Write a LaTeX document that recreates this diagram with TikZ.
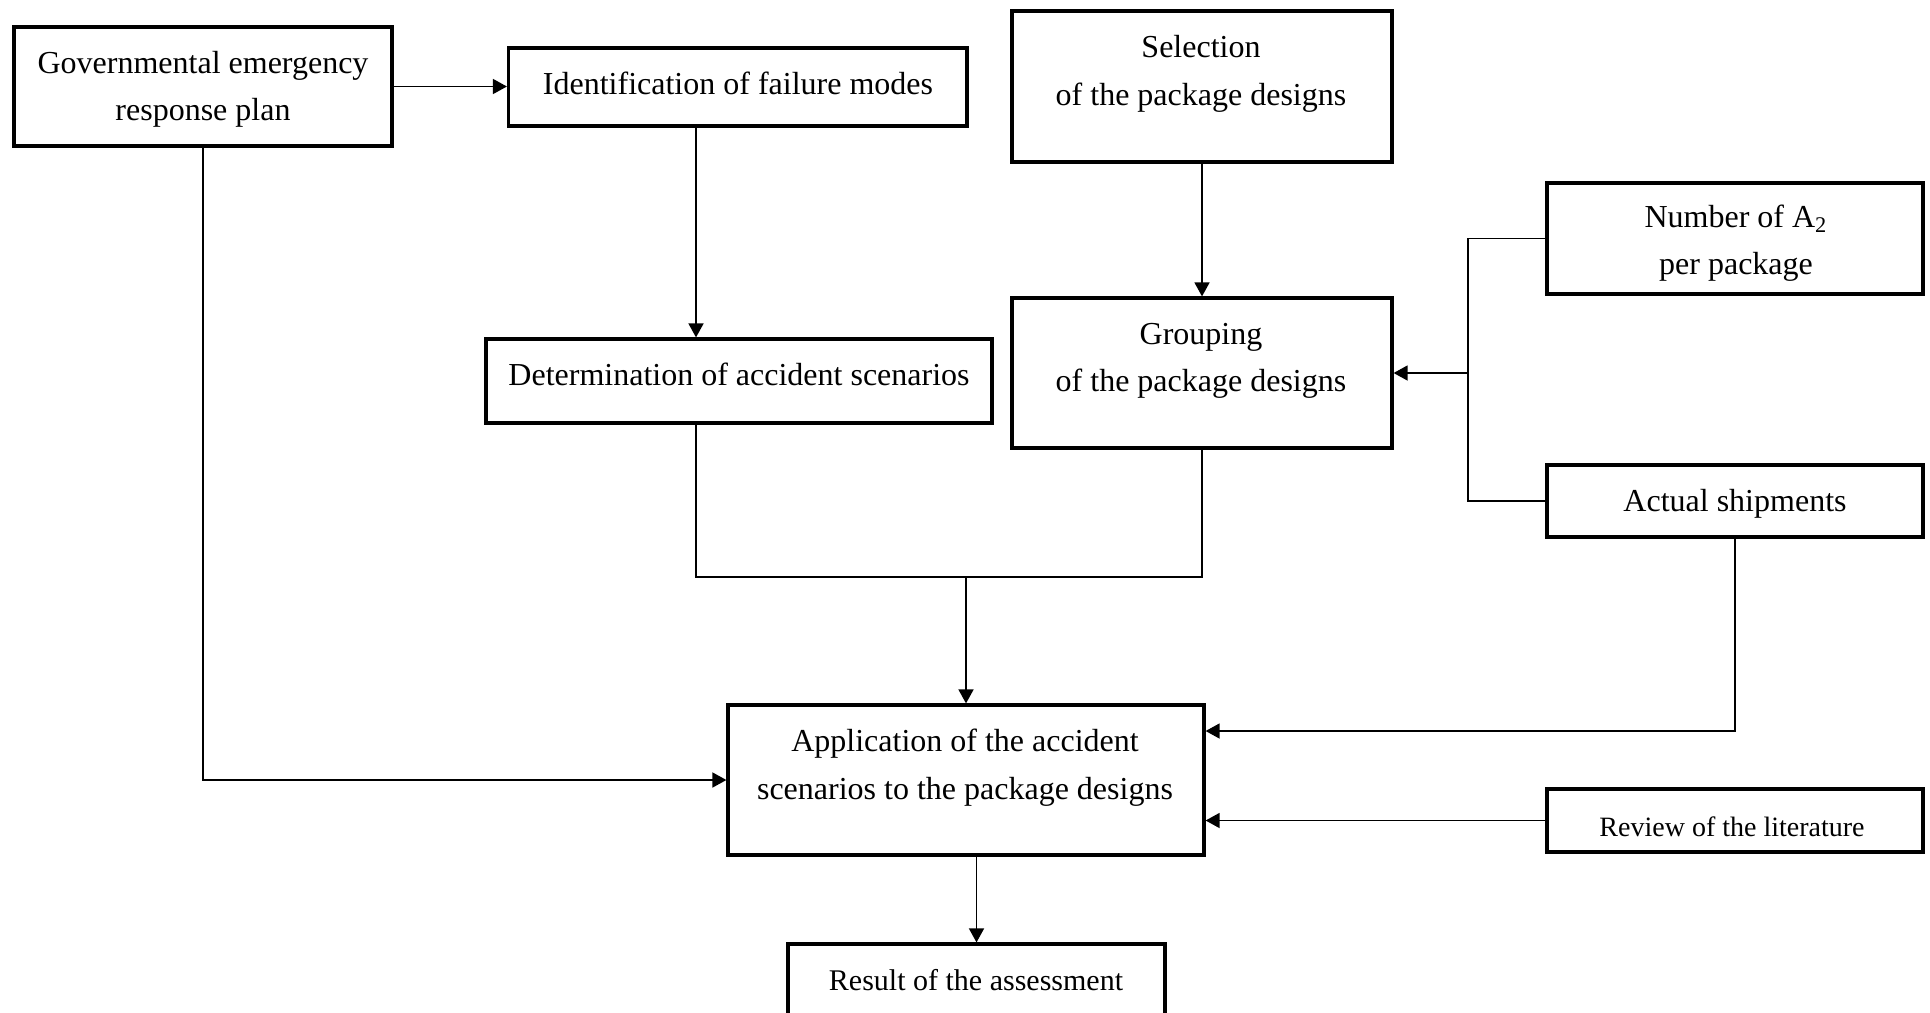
\documentclass[tikz,border=0pt]{standalone}
\usepackage{fontspec}
\setmainfont{Liberation Serif}
\usetikzlibrary{arrows.meta,fit}

\begin{document}
\begin{tikzpicture}[x=0.5pt, y=-0.5pt,
		box/.style = {draw, line width=1.6pt, inner sep=0pt},
		txt/.style = {align=center, inner sep=0pt, font=\fontsize{16}{23.75}\selectfont},
		con/.style = {line width=0.8pt},
		arr/.style = {con, -{Triangle[length=7pt, width=7.5pt]}}]
		\clip (0,0) rectangle (1930,1012);

		% boxes
		\node[box, fit={(14,27) (392,146)}] (1) {};
		\node[box, fit={(508.5,48) (967,126)}] (2) {};
		\node[box, fit={(1012,11) (1392,162)}] (3) {};
		\node[box, fit={(1547,183) (1923,294)}] (4) {};
		\node[box, fit={(486,339) (992,423)}] (5) {};
		\node[box, fit={(1012,298) (1392,448)}] (6) {};
		\node[box, fit={(1547,465) (1923,537)}] (7) {};
		\node[box, fit={(728,705) (1204,855)}] (8) {};
		\node[box, fit={(1547,789) (1923,852)}] (9) {};
		\node[box, fit={(788,944) (1165,1040)}] (10) {};

		% texts
		\node[txt] (t1) at (203,89.5) {Governmental emergency\\response plan};
		\node[txt] (t2) at (738,83) {Identification of failure modes};
		\node[txt] (t3) at (1201,74) {Selection\\of the package designs};
		\node[txt] (t4) at (1736,243) {Number of A\textsubscript{2}\\per package};
		\node[txt] (t5) at (739,374) {Determination of accident scenarios};
		\node[txt] (t6) at (1201,361) {Grouping\\of the package designs};
		\node[txt] (t7) at (1735,503.5) {Actual shipments};
		\node[txt] (t8) at (965,767.5) {Application of the accident\\scenarios to the package designs};
		\node[txt, font=\fontsize{14}{17}\selectfont] (t9) at (1732,827) {Review of the literature};
		\node[txt, font=\fontsize{15}{18}\selectfont] (t10) at (976,980.5) {Result of the assessment};

		% connectors
		\coordinate (a) at (696,0);
		\coordinate (b) at (1468,373);
		\coordinate (c) at (966,577);
		\coordinate (d) at (0,731);

		\draw[arr] (1.east) -- (1.east -| 2.west);
		\draw[arr] (2.south -| a) -- (5.north -| a);
		\draw[arr] (3) -- (6);
		\draw[con] (4.west) -| (b) |- (7.west);
		\draw[arr] (b) -- (b -| 6.east);
		\draw[con] (5.south -| a) |- (c);
		\draw[con] (6.south) |- (c);
		\draw[arr] (c) -- (c |- 8.north);
		\draw[arr] (1.south) |- (8.west);
		\draw[arr] (7.south) |- (d -| 8.east);
		\draw[arr] (9.west) -- (9.west -| 8.east);
		\draw[arr] (10.north |- 8.south) -- (10.north);
	\end{tikzpicture}
\end{document}
